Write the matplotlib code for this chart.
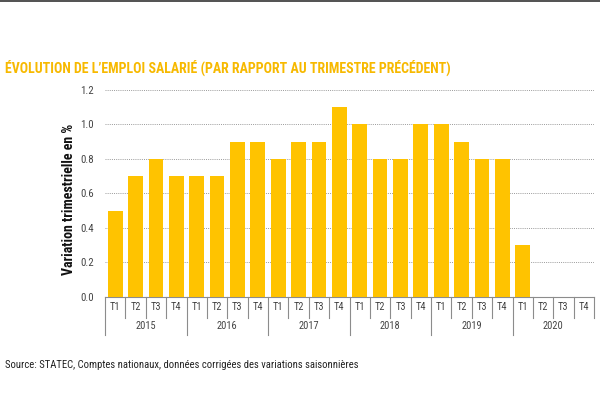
import matplotlib.pyplot as plt
import matplotlib.transforms as mtransforms
import numpy as np

years = ["2015", "2016", "2017", "2018", "2019", "2020"]
quarters = ["T1", "T2", "T3", "T4"]
# variation trimestrielle (%), 2015 T1 -> 2020 T1
values = [0.5, 0.7, 0.8, 0.7,
          0.7, 0.7, 0.9, 0.9,
          0.8, 0.9, 0.9, 1.1,
          1.0, 0.8, 0.8, 1.0,
          1.0, 0.9, 0.8, 0.8,
          0.3]
yticks = [0.0, 0.2, 0.4, 0.6, 0.8, 1.0, 1.2]

BAR = "#FFC300"
TITLE = "#F7B900"
GRID = "#9a9a9a"
LINE = "#8c8c8c"
TXT = "#444444"

plt.rcParams['font.family'] = ['Roboto Condensed', 'DejaVu Sans']


def draw():
    fig = plt.figure(figsize=(6, 4.09), dpi=100)
    ax = fig.add_axes([0.175, 0.274, 0.815, 0.506])

    n = len(years) * len(quarters)
    x = np.arange(len(values))
    ax.bar(x, values, width=0.72, color=BAR, zorder=3)

    ax.set_xlim(-0.5, n - 0.5)
    ax.set_ylim(0, 1.2)
    ax.set_yticks(yticks)
    ax.set_yticklabels([f"{v:.1f}" for v in yticks], color=TXT, fontsize=7.8)
    ax.tick_params(axis='y', length=0, pad=8)
    ax.set_xticks([])
    for s in ['top', 'right', 'left']:
        ax.spines[s].set_visible(False)
    ax.spines['bottom'].set_color(LINE)
    ax.spines['bottom'].set_linewidth(0.8)
    ax.yaxis.grid(True, linestyle=(0, (1, 1.2)), color=GRID, linewidth=0.7, zorder=0)

    ax.set_ylabel("Variation trimestrielle en %", fontsize=10, fontweight='bold',
                  color='#111111')
    ax.yaxis.set_label_coords(-0.059, 0.47)

    # two-level category axis
    tr = mtransforms.blended_transform_factory(ax.transData, ax.transAxes)
    row1 = -0.101
    row2 = -0.184
    for i in range(n + 1):
        xs = i - 0.5
        bottom = row2 if i % 4 == 0 and i < n else row1
        ax.plot([xs, xs], [0, bottom], transform=tr, color=LINE, lw=0.8, clip_on=False)
    for i in range(n):
        ax.text(i, row1 / 2, quarters[i % 4], transform=tr, ha='center', va='center',
                fontsize=7.5, color=TXT)
    for j, yr in enumerate(years):
        ax.text(j * 4 + 1.5, (row1 + row2) / 2, yr, transform=tr, ha='center', va='center',
                fontsize=7.5, color=TXT)

    fig.text(0.008, 0.835, "ÉVOLUTION DE L\u2019EMPLOI SALARIÉ (PAR RAPPORT AU TRIMESTRE PRÉCÉDENT)",
             color=TITLE, fontsize=10, fontweight='bold', va='center')
    fig.text(0.008, 0.107, "Source: STATEC, Comptes nationaux, données corrigées des variations saisonnières",
             color='#222222', fontsize=7.7, va='center')
    fig.add_artist(plt.Line2D([0, 1], [0.998, 0.998], color='#333333', lw=1.2,
                              transform=fig.transFigure))

    fig.savefig("out.png", dpi=100)


if __name__ == "__main__":
    draw()
